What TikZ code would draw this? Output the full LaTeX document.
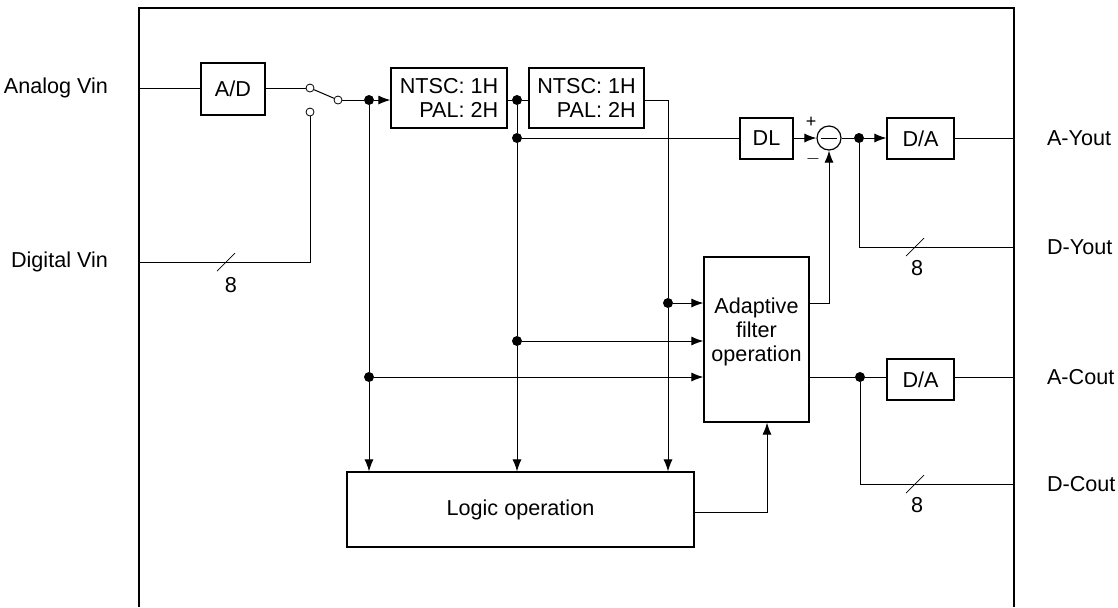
\documentclass[tikz,border=0pt]{standalone}
\usepackage{fontspec}
\setmainfont{Liberation Sans}
\usetikzlibrary{arrows.meta, shapes, positioning}

\tikzset{
	blk/.style={draw, line width=0.6pt, text centered, inner sep=0pt},
	dot/.style={circle, fill, inner sep=0pt, minimum size=5pt},
	contact/.style={circle, draw, fill=white, line width=0.4pt, inner sep=0pt, minimum size=4pt},
	wire/.style={line width=0.5pt},
	>={Latex[length=6pt, width=4.5pt]}
}

\begin{document}
\begin{tikzpicture}[x=0.5pt, y=-0.5pt, font=\fontsize{10.8}{12}\selectfont]
		 \useasboundingbox (0,0) rectangle (1118,607);

		 % frame %
		 \draw[line width=1.1pt] (139,607) -- (139,8) -- (1014,8) -- (1014,607);

		 % nodes %
		 \node[blk, minimum width=32pt, minimum height=26pt] (ad) at (233,89) {A/D};
		 \node[contact] (sw1) at (310,88) {};
		 \node[contact] (sw2) at (310,112) {};
		 \node[contact] (swo) at (338,100) {};
		 \node[blk, minimum width=58pt, minimum height=30pt, align=right] (ntscA) at (449,98) {NTSC: 1H\\PAL: 2H};
		 \node[blk, right of = ntscA, node distance=68.75pt, minimum width=57.5pt, minimum height=30pt, align=right] (ntscB) {NTSC: 1H\\PAL: 2H};
		 \node[blk, minimum width=26.5pt, minimum height=20.5pt] (dl) at (766.5,138.5) {DL};
		 \node[circle, draw, line width=0.6pt, inner sep=0pt, minimum size=12pt] (sub) at (829,138) {};
		 \node[blk, minimum width=33.5pt, minimum height=20.5pt] (daY) at (920.5,138.5) {D/A};
		 \node[blk, minimum width=52.5pt, minimum height=82.5pt,
		 	label={[align=center, yshift=3.75pt]center:Adaptive\\filter\\operation}] (adapt) at (756.5,339.5) {};
		 \node[blk, below of = daY, node distance=120.5pt, minimum width=33.5pt, minimum height=20.5pt] (daC) {D/A};
		 \node[blk, minimum width=173.5pt, minimum height=37.5pt] (logic) at (520.5,509.5) {Logic operation};

		 % junctions %
		 \node[dot] (j1) at (369,100) {};
		 \node[dot] (j2) at (517,100) {};
		 \node[dot] (j3) at (517,138) {};
		 \node[dot] (j4) at (859,138) {};
		 \node[dot] (j5) at (668,303) {};
		 \node[dot] (j6) at (517,341) {};
		 \node[dot] (j7) at (369,377) {};
		 \node[dot] (j8) at (860,377) {};

		 % ports %
		 \coordinate (ain) at (139,88);
		 \coordinate (din) at (139,262);
		 \coordinate (ayout) at (1014,138);
		 \coordinate (dyout) at (1014,247);
		 \coordinate (acout) at (1014,377);
		 \coordinate (dcout) at (1014,484);
		 \node[left] at (115,88) {Analog Vin};
		 \node[left] at (115,262) {Digital Vin};
		 \node[right] at (1040,138) {A-Yout};
		 \node[right] at (1040,247) {D-Yout};
		 \node[right] at (1040,377) {A-Cout};
		 \node[right] at (1040,484) {D-Cout};

		 % edges %
		 \draw[wire] (ain) -- (ad.west |- ain);
		 \draw[wire] (ad.east |- sw1) -- (sw1);
		 \draw[wire] (sw1) -- (swo);
		 \draw[wire] (swo) -- (j1);
		 \draw[wire, ->] (j1) -- (ntscA.west |- j1);
		 \draw[wire] (din) -- (din -| sw2) -- (sw2);
		 \draw[wire] (ntscA.east |- j2) -- (j2) -- (ntscB.west |- j2);
		 \draw[wire] (ntscB.east |- j2) -- (j2 -| j5) -- (j5);
		 \draw[wire, ->] (j5) -- (j5 |- logic.north);
		 \draw[wire, ->] (j5) -- (adapt.west |- j5);
		 \draw[wire] (j2) -- (j3);
		 \draw[wire] (j3) -- (dl.west |- j3);
		 \draw[wire] (j3) -- (j6);
		 \draw[wire, ->] (j6) -- (j6 |- logic.north);
		 \draw[wire, ->] (j6) -- (adapt.west |- j6);
		 \draw[wire] (j1) -- (j7);
		 \draw[wire, ->] (j7) -- (j7 |- logic.north);
		 \draw[wire, ->] (j7) -- (adapt.west |- j7);
		 \draw[wire, ->] (dl.east |- sub) -- (sub.west);
		 \draw[wire] (sub.east) -- (j4);
		 \draw[wire, ->] (j4) -- (daY.west |- j4);
		 \draw[wire] (daY.east |- ayout) -- (ayout);
		 \draw[wire] (j4) -- (j4 |- dyout) -- (dyout);
		 \draw[wire, ->] (adapt.east |- j5) -- (sub |- j5) -- (sub.south);
		 \draw[wire] (adapt.east |- j8) -- (j8) -- (daC.west |- j8);
		 \draw[wire] (daC.east |- acout) -- (acout);
		 \draw[wire] (j8) -- (j8 |- dcout) -- (dcout);
		 \draw[wire, ->] (logic.east |- 0,512) -- (767,512) -- (767,0 |- adapt.south);

		 % subtractor signs, bus widths %
		 \draw[wire] (sub.center) +(-8,0) -- +(8,0);
		 \node[font=\fontsize{9}{9}\selectfont] at (811,122) {+};
		 \node[font=\fontsize{9}{9}\selectfont] at (813,159) {$-$};
		 \draw[line width=0.35pt] (226,262) ++(-9,9) -- ++(18,-18);
		 \node at (231,285) {8};
		 \draw[line width=0.35pt] (915,247) ++(-9,9) -- ++(18,-18);
		 \node at (917,268) {8};
		 \draw[line width=0.35pt] (915,484) ++(-9,9) -- ++(18,-18);
		 \node at (917,505) {8};
\end{tikzpicture}
\end{document}
